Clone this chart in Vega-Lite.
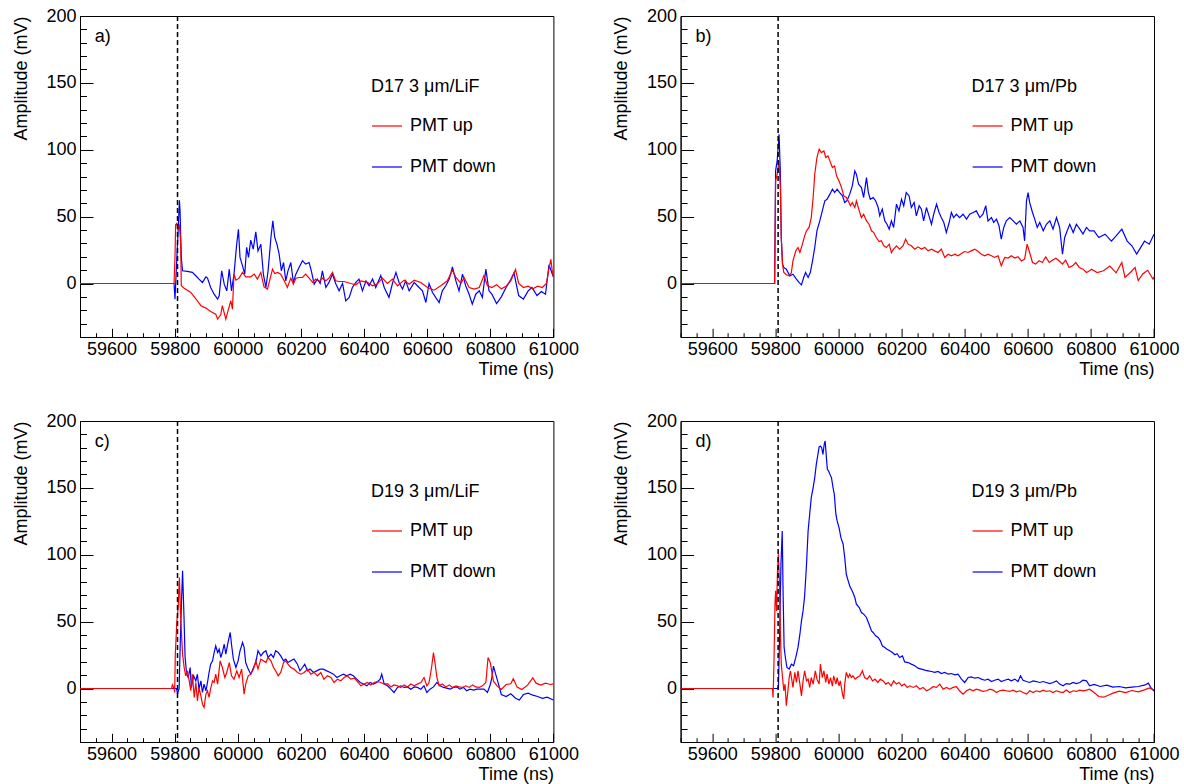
{
"$schema": "https://vega.github.io/schema/vega-lite/v6.json",
"background": "white",
"padding": {"left": 11, "top": 6, "right": 4, "bottom": 2},
"datasets": {
"a": [{"s":"PMT down","t":59500,"v":0},{"s":"PMT down","t":59798,"v":0},{"s":"PMT down","t":59801,"v":-11.7},{"s":"PMT down","t":59807,"v":20},{"s":"PMT down","t":59812,"v":45},{"s":"PMT down","t":59815,"v":62.3},{"s":"PMT down","t":59817,"v":54.3},{"s":"PMT down","t":59821,"v":19.4},{"s":"PMT down","t":59825,"v":9.5},{"s":"PMT down","t":59840,"v":9},{"s":"PMT down","t":59856,"v":8.3},{"s":"PMT down","t":59867,"v":5.8},{"s":"PMT down","t":59877,"v":3.3},{"s":"PMT down","t":59888,"v":0.8},{"s":"PMT down","t":59899,"v":5},{"s":"PMT down","t":59904,"v":4},{"s":"PMT down","t":59914,"v":-3},{"s":"PMT down","t":59925,"v":-8},{"s":"PMT down","t":59936,"v":-11.7},{"s":"PMT down","t":59941,"v":-9.2},{"s":"PMT down","t":59949,"v":9.5},{"s":"PMT down","t":59957,"v":-0.5},{"s":"PMT down","t":59965,"v":-5.5},{"s":"PMT down","t":59973,"v":10.7},{"s":"PMT down","t":59980,"v":-5.5},{"s":"PMT down","t":59988,"v":7},{"s":"PMT down","t":59996,"v":28.2},{"s":"PMT down","t":60002,"v":40.6},{"s":"PMT down","t":60007,"v":19.5},{"s":"PMT down","t":60015,"v":13.2},{"s":"PMT down","t":60022,"v":7},{"s":"PMT down","t":60028,"v":27},{"s":"PMT down","t":60034,"v":19.5},{"s":"PMT down","t":60041,"v":32.4},{"s":"PMT down","t":60049,"v":25.7},{"s":"PMT down","t":60057,"v":38.6},{"s":"PMT down","t":60064,"v":24.4},{"s":"PMT down","t":60073,"v":29.4},{"s":"PMT down","t":60081,"v":7},{"s":"PMT down","t":60089,"v":-3},{"s":"PMT down","t":60096,"v":9.5},{"s":"PMT down","t":60105,"v":34.4},{"s":"PMT down","t":60111,"v":46.8},{"s":"PMT down","t":60117,"v":34.4},{"s":"PMT down","t":60124,"v":29.4},{"s":"PMT down","t":60131,"v":21.9},{"s":"PMT down","t":60138,"v":9.5},{"s":"PMT down","t":60145,"v":15.7},{"s":"PMT down","t":60152,"v":2},{"s":"PMT down","t":60159,"v":9.5},{"s":"PMT down","t":60168,"v":15.7},{"s":"PMT down","t":60176,"v":0.8},{"s":"PMT down","t":60184,"v":7},{"s":"PMT down","t":60194,"v":12},{"s":"PMT down","t":60205,"v":17},{"s":"PMT down","t":60215,"v":14.5},{"s":"PMT down","t":60226,"v":15.7},{"s":"PMT down","t":60233,"v":9.5},{"s":"PMT down","t":60242,"v":-0.5},{"s":"PMT down","t":60252,"v":3.3},{"s":"PMT down","t":60261,"v":0},{"s":"PMT down","t":60268,"v":9.5},{"s":"PMT down","t":60279,"v":-3},{"s":"PMT down","t":60289,"v":0.8},{"s":"PMT down","t":60300,"v":7},{"s":"PMT down","t":60310,"v":0},{"s":"PMT down","t":60321,"v":-5.5},{"s":"PMT down","t":60332,"v":0},{"s":"PMT down","t":60342,"v":-13},{"s":"PMT down","t":60353,"v":-10.4},{"s":"PMT down","t":60363,"v":-3},{"s":"PMT down","t":60374,"v":0.8},{"s":"PMT down","t":60384,"v":3.3},{"s":"PMT down","t":60395,"v":-5.5},{"s":"PMT down","t":60406,"v":2},{"s":"PMT down","t":60416,"v":-1.7},{"s":"PMT down","t":60427,"v":3.3},{"s":"PMT down","t":60437,"v":-3},{"s":"PMT down","t":60453,"v":6},{"s":"PMT down","t":60464,"v":-3},{"s":"PMT down","t":60479,"v":-10.4},{"s":"PMT down","t":60490,"v":0},{"s":"PMT down","t":60501,"v":8.3},{"s":"PMT down","t":60511,"v":0.8},{"s":"PMT down","t":60522,"v":-4.2},{"s":"PMT down","t":60532,"v":2},{"s":"PMT down","t":60543,"v":-5.5},{"s":"PMT down","t":60559,"v":0.8},{"s":"PMT down","t":60569,"v":-1.7},{"s":"PMT down","t":60585,"v":-5.5},{"s":"PMT down","t":60596,"v":-14.2},{"s":"PMT down","t":60606,"v":0},{"s":"PMT down","t":60617,"v":-6.7},{"s":"PMT down","t":60627,"v":-10.4},{"s":"PMT down","t":60638,"v":-14.2},{"s":"PMT down","t":60648,"v":-5.5},{"s":"PMT down","t":60659,"v":-1.7},{"s":"PMT down","t":60670,"v":3.3},{"s":"PMT down","t":60680,"v":12.5},{"s":"PMT down","t":60691,"v":2},{"s":"PMT down","t":60701,"v":-5.5},{"s":"PMT down","t":60712,"v":7},{"s":"PMT down","t":60722,"v":-1.7},{"s":"PMT down","t":60733,"v":-8},{"s":"PMT down","t":60743,"v":-15.4},{"s":"PMT down","t":60754,"v":-8},{"s":"PMT down","t":60765,"v":-5.5},{"s":"PMT down","t":60775,"v":-10.4},{"s":"PMT down","t":60786,"v":10.7},{"s":"PMT down","t":60796,"v":-5.5},{"s":"PMT down","t":60805,"v":-8},{"s":"PMT down","t":60820,"v":-15},{"s":"PMT down","t":60835,"v":-10},{"s":"PMT down","t":60850,"v":-3},{"s":"PMT down","t":60865,"v":3},{"s":"PMT down","t":60875,"v":8},{"s":"PMT down","t":60890,"v":-9},{"s":"PMT down","t":60905,"v":-11.7},{"s":"PMT down","t":60920,"v":-5.5},{"s":"PMT down","t":60932,"v":-3},{"s":"PMT down","t":60948,"v":-9},{"s":"PMT down","t":60962,"v":-6},{"s":"PMT down","t":60975,"v":-8},{"s":"PMT down","t":60986,"v":14},{"s":"PMT down","t":60995,"v":8},{"s":"PMT down","t":61000,"v":5},
{"s":"PMT up","t":59500,"v":0},{"s":"PMT up","t":59798,"v":0},{"s":"PMT up","t":59801,"v":20},{"s":"PMT up","t":59803,"v":44},{"s":"PMT up","t":59807,"v":45},{"s":"PMT up","t":59811,"v":40},{"s":"PMT up","t":59815,"v":44},{"s":"PMT up","t":59819,"v":30},{"s":"PMT up","t":59821,"v":-1.7},{"s":"PMT up","t":59830,"v":-3.5},{"s":"PMT up","t":59851,"v":-6.7},{"s":"PMT up","t":59872,"v":-12.9},{"s":"PMT up","t":59883,"v":-16.6},{"s":"PMT up","t":59899,"v":-18.4},{"s":"PMT up","t":59914,"v":-20.9},{"s":"PMT up","t":59930,"v":-22.9},{"s":"PMT up","t":59936,"v":-26.6},{"s":"PMT up","t":59946,"v":-23.4},{"s":"PMT up","t":59951,"v":-16.6},{"s":"PMT up","t":59962,"v":-26.6},{"s":"PMT up","t":59969,"v":-20.4},{"s":"PMT up","t":59978,"v":-12.9},{"s":"PMT up","t":59983,"v":-19.2},{"s":"PMT up","t":59988,"v":7},{"s":"PMT up","t":59994,"v":2.5},{"s":"PMT up","t":60004,"v":4},{"s":"PMT up","t":60015,"v":8.3},{"s":"PMT up","t":60025,"v":5},{"s":"PMT up","t":60041,"v":5},{"s":"PMT up","t":60052,"v":7},{"s":"PMT up","t":60062,"v":3.3},{"s":"PMT up","t":60073,"v":8.3},{"s":"PMT up","t":60083,"v":-2.5},{"s":"PMT up","t":60094,"v":-4.2},{"s":"PMT up","t":60102,"v":3.3},{"s":"PMT up","t":60110,"v":10.7},{"s":"PMT up","t":60117,"v":7.5},{"s":"PMT up","t":60126,"v":8.3},{"s":"PMT up","t":60136,"v":7},{"s":"PMT up","t":60147,"v":2},{"s":"PMT up","t":60157,"v":-3},{"s":"PMT up","t":60168,"v":4},{"s":"PMT up","t":60176,"v":-0.5},{"s":"PMT up","t":60184,"v":4},{"s":"PMT up","t":60194,"v":4.5},{"s":"PMT up","t":60205,"v":4.5},{"s":"PMT up","t":60215,"v":7},{"s":"PMT up","t":60226,"v":4},{"s":"PMT up","t":60237,"v":0.8},{"s":"PMT up","t":60247,"v":3.3},{"s":"PMT up","t":60258,"v":1.5},{"s":"PMT up","t":60268,"v":4},{"s":"PMT up","t":60279,"v":2},{"s":"PMT up","t":60289,"v":4},{"s":"PMT up","t":60300,"v":8.3},{"s":"PMT up","t":60310,"v":2},{"s":"PMT up","t":60321,"v":1.5},{"s":"PMT up","t":60337,"v":1.5},{"s":"PMT up","t":60358,"v":0},{"s":"PMT up","t":60374,"v":-1},{"s":"PMT up","t":60390,"v":2},{"s":"PMT up","t":60411,"v":0.8},{"s":"PMT up","t":60427,"v":-1.7},{"s":"PMT up","t":60443,"v":0},{"s":"PMT up","t":60458,"v":4},{"s":"PMT up","t":60474,"v":0},{"s":"PMT up","t":60490,"v":3.3},{"s":"PMT up","t":60506,"v":-1.7},{"s":"PMT up","t":60527,"v":2.5},{"s":"PMT up","t":60543,"v":-0.5},{"s":"PMT up","t":60559,"v":2.5},{"s":"PMT up","t":60580,"v":0.8},{"s":"PMT up","t":60601,"v":-3},{"s":"PMT up","t":60622,"v":-5},{"s":"PMT up","t":60643,"v":-1.7},{"s":"PMT up","t":60664,"v":2},{"s":"PMT up","t":60680,"v":10},{"s":"PMT up","t":60691,"v":4.5},{"s":"PMT up","t":60707,"v":0},{"s":"PMT up","t":60717,"v":4.5},{"s":"PMT up","t":60733,"v":-3},{"s":"PMT up","t":60749,"v":-4.2},{"s":"PMT up","t":60765,"v":-3},{"s":"PMT up","t":60780,"v":6},{"s":"PMT up","t":60791,"v":-1.7},{"s":"PMT up","t":60805,"v":-3},{"s":"PMT up","t":60820,"v":-1},{"s":"PMT up","t":60835,"v":-4},{"s":"PMT up","t":60850,"v":-2},{"s":"PMT up","t":60865,"v":2},{"s":"PMT up","t":60880,"v":10.5},{"s":"PMT up","t":60890,"v":0},{"s":"PMT up","t":60905,"v":-3},{"s":"PMT up","t":60920,"v":-2},{"s":"PMT up","t":60935,"v":-4},{"s":"PMT up","t":60950,"v":-2},{"s":"PMT up","t":60965,"v":-3},{"s":"PMT up","t":60978,"v":0},{"s":"PMT up","t":60985,"v":10},{"s":"PMT up","t":60992,"v":18},{"s":"PMT up","t":60996,"v":10},{"s":"PMT up","t":61000,"v":5}],
"b": [{"s":"PMT down","t":59500,"v":0},{"s":"PMT down","t":59798,"v":0},{"s":"PMT down","t":59801,"v":84.2},{"s":"PMT down","t":59806,"v":91.7},{"s":"PMT down","t":59812,"v":111.6},{"s":"PMT down","t":59816,"v":84},{"s":"PMT down","t":59819,"v":34.4},{"s":"PMT down","t":59823,"v":14.5},{"s":"PMT down","t":59827,"v":12},{"s":"PMT down","t":59835,"v":10.7},{"s":"PMT down","t":59846,"v":5.7},{"s":"PMT down","t":59856,"v":6.9},{"s":"PMT down","t":59867,"v":3.3},{"s":"PMT down","t":59875,"v":0.8},{"s":"PMT down","t":59883,"v":-1},{"s":"PMT down","t":59890,"v":4.5},{"s":"PMT down","t":59896,"v":8.2},{"s":"PMT down","t":59904,"v":4.5},{"s":"PMT down","t":59911,"v":8.2},{"s":"PMT down","t":59918,"v":16.9},{"s":"PMT down","t":59925,"v":26.9},{"s":"PMT down","t":59932,"v":39.4},{"s":"PMT down","t":59941,"v":46.8},{"s":"PMT down","t":59949,"v":54.3},{"s":"PMT down","t":59957,"v":61.8},{"s":"PMT down","t":59964,"v":63},{"s":"PMT down","t":59973,"v":66.8},{"s":"PMT down","t":59981,"v":70.5},{"s":"PMT down","t":59988,"v":68},{"s":"PMT down","t":59996,"v":70.5},{"s":"PMT down","t":60004,"v":68},{"s":"PMT down","t":60013,"v":65.5},{"s":"PMT down","t":60020,"v":60.6},{"s":"PMT down","t":60027,"v":61.8},{"s":"PMT down","t":60036,"v":66.8},{"s":"PMT down","t":60044,"v":73},{"s":"PMT down","t":60052,"v":84.2},{"s":"PMT down","t":60057,"v":81.7},{"s":"PMT down","t":60064,"v":74.2},{"s":"PMT down","t":60073,"v":71.7},{"s":"PMT down","t":60080,"v":64.3},{"s":"PMT down","t":60089,"v":79.2},{"s":"PMT down","t":60095,"v":68},{"s":"PMT down","t":60101,"v":63},{"s":"PMT down","t":60110,"v":64.3},{"s":"PMT down","t":60118,"v":61.8},{"s":"PMT down","t":60126,"v":56.8},{"s":"PMT down","t":60131,"v":50.6},{"s":"PMT down","t":60139,"v":55.6},{"s":"PMT down","t":60147,"v":46.8},{"s":"PMT down","t":60154,"v":44.3},{"s":"PMT down","t":60161,"v":40.6},{"s":"PMT down","t":60168,"v":46.8},{"s":"PMT down","t":60175,"v":41.9},{"s":"PMT down","t":60184,"v":59.3},{"s":"PMT down","t":60192,"v":54.3},{"s":"PMT down","t":60200,"v":63},{"s":"PMT down","t":60207,"v":58.1},{"s":"PMT down","t":60215,"v":68},{"s":"PMT down","t":60224,"v":65.5},{"s":"PMT down","t":60231,"v":56.8},{"s":"PMT down","t":60240,"v":60.6},{"s":"PMT down","t":60247,"v":50.6},{"s":"PMT down","t":60256,"v":58.1},{"s":"PMT down","t":60263,"v":55.6},{"s":"PMT down","t":60270,"v":46.8},{"s":"PMT down","t":60279,"v":56.8},{"s":"PMT down","t":60287,"v":50.6},{"s":"PMT down","t":60295,"v":44.3},{"s":"PMT down","t":60302,"v":51.8},{"s":"PMT down","t":60311,"v":59.3},{"s":"PMT down","t":60319,"v":53.1},{"s":"PMT down","t":60326,"v":49.3},{"s":"PMT down","t":60334,"v":45.6},{"s":"PMT down","t":60342,"v":38.1},{"s":"PMT down","t":60351,"v":45.6},{"s":"PMT down","t":60358,"v":53.1},{"s":"PMT down","t":60365,"v":49.3},{"s":"PMT down","t":60374,"v":51.8},{"s":"PMT down","t":60384,"v":49.3},{"s":"PMT down","t":60395,"v":51.8},{"s":"PMT down","t":60406,"v":48.1},{"s":"PMT down","t":60416,"v":51.8},{"s":"PMT down","t":60427,"v":53.1},{"s":"PMT down","t":60437,"v":54.3},{"s":"PMT down","t":60448,"v":49.3},{"s":"PMT down","t":60458,"v":51.8},{"s":"PMT down","t":60467,"v":58.1},{"s":"PMT down","t":60474,"v":46.8},{"s":"PMT down","t":60485,"v":49.3},{"s":"PMT down","t":60492,"v":45.6},{"s":"PMT down","t":60501,"v":48.1},{"s":"PMT down","t":60509,"v":43.1},{"s":"PMT down","t":60516,"v":33.1},{"s":"PMT down","t":60524,"v":41.9},{"s":"PMT down","t":60532,"v":46.8},{"s":"PMT down","t":60543,"v":49.3},{"s":"PMT down","t":60554,"v":46.8},{"s":"PMT down","t":60564,"v":44.3},{"s":"PMT down","t":60575,"v":46.8},{"s":"PMT down","t":60585,"v":41.9},{"s":"PMT down","t":60590,"v":31.9},{"s":"PMT down","t":60596,"v":61.8},{"s":"PMT down","t":60601,"v":68},{"s":"PMT down","t":60606,"v":60.6},{"s":"PMT down","t":60615,"v":53.1},{"s":"PMT down","t":60622,"v":48.1},{"s":"PMT down","t":60630,"v":41.9},{"s":"PMT down","t":60638,"v":45.6},{"s":"PMT down","t":60649,"v":39.4},{"s":"PMT down","t":60659,"v":44.3},{"s":"PMT down","t":60670,"v":46.8},{"s":"PMT down","t":60680,"v":40.6},{"s":"PMT down","t":60691,"v":49.3},{"s":"PMT down","t":60701,"v":41.9},{"s":"PMT down","t":60710,"v":21.9},{"s":"PMT down","t":60717,"v":34.4},{"s":"PMT down","t":60725,"v":39.4},{"s":"PMT down","t":60733,"v":44.3},{"s":"PMT down","t":60744,"v":38.1},{"s":"PMT down","t":60754,"v":44.3},{"s":"PMT down","t":60765,"v":40.6},{"s":"PMT down","t":60775,"v":36.9},{"s":"PMT down","t":60786,"v":41.9},{"s":"PMT down","t":60796,"v":39.4},{"s":"PMT down","t":60810,"v":39.4},{"s":"PMT down","t":60825,"v":34.4},{"s":"PMT down","t":60845,"v":36.9},{"s":"PMT down","t":60865,"v":31.7},{"s":"PMT down","t":60880,"v":35.6},{"s":"PMT down","t":60898,"v":40.6},{"s":"PMT down","t":60915,"v":31.7},{"s":"PMT down","t":60930,"v":28.2},{"s":"PMT down","t":60945,"v":22},{"s":"PMT down","t":60958,"v":27},{"s":"PMT down","t":60970,"v":31.7},{"s":"PMT down","t":60985,"v":29.4},{"s":"PMT down","t":61000,"v":36.9},
{"s":"PMT up","t":59500,"v":0},{"s":"PMT up","t":59798,"v":0},{"s":"PMT up","t":59801,"v":76.7},{"s":"PMT up","t":59806,"v":81.7},{"s":"PMT up","t":59812,"v":92.2},{"s":"PMT up","t":59816,"v":71.7},{"s":"PMT up","t":59819,"v":34.4},{"s":"PMT up","t":59823,"v":14.5},{"s":"PMT up","t":59827,"v":8.2},{"s":"PMT up","t":59835,"v":6.5},{"s":"PMT up","t":59844,"v":5.7},{"s":"PMT up","t":59851,"v":8.2},{"s":"PMT up","t":59856,"v":16.9},{"s":"PMT up","t":59865,"v":24.4},{"s":"PMT up","t":59872,"v":26.9},{"s":"PMT up","t":59878,"v":23.2},{"s":"PMT up","t":59886,"v":29.4},{"s":"PMT up","t":59893,"v":35.6},{"s":"PMT up","t":59899,"v":39.4},{"s":"PMT up","t":59907,"v":41.9},{"s":"PMT up","t":59914,"v":49.3},{"s":"PMT up","t":59920,"v":64.3},{"s":"PMT up","t":59925,"v":81.7},{"s":"PMT up","t":59932,"v":94.2},{"s":"PMT up","t":59939,"v":100.4},{"s":"PMT up","t":59946,"v":97.9},{"s":"PMT up","t":59954,"v":99.1},{"s":"PMT up","t":59960,"v":94.2},{"s":"PMT up","t":59967,"v":95.4},{"s":"PMT up","t":59975,"v":90.4},{"s":"PMT up","t":59981,"v":86.7},{"s":"PMT up","t":59988,"v":87.9},{"s":"PMT up","t":59994,"v":80.5},{"s":"PMT up","t":60002,"v":76.7},{"s":"PMT up","t":60010,"v":71.7},{"s":"PMT up","t":60017,"v":65.5},{"s":"PMT up","t":60025,"v":64.3},{"s":"PMT up","t":60031,"v":61.8},{"s":"PMT up","t":60038,"v":58.1},{"s":"PMT up","t":60044,"v":60.6},{"s":"PMT up","t":60052,"v":56.8},{"s":"PMT up","t":60057,"v":61.8},{"s":"PMT up","t":60066,"v":54.3},{"s":"PMT up","t":60073,"v":49.3},{"s":"PMT up","t":60080,"v":51.8},{"s":"PMT up","t":60089,"v":46.8},{"s":"PMT up","t":60097,"v":44.3},{"s":"PMT up","t":60105,"v":39.4},{"s":"PMT up","t":60112,"v":38.1},{"s":"PMT up","t":60120,"v":34.4},{"s":"PMT up","t":60129,"v":31.4},{"s":"PMT up","t":60136,"v":31.9},{"s":"PMT up","t":60144,"v":28.2},{"s":"PMT up","t":60152,"v":26.9},{"s":"PMT up","t":60161,"v":29.4},{"s":"PMT up","t":60168,"v":23.2},{"s":"PMT up","t":60175,"v":25.7},{"s":"PMT up","t":60184,"v":28.2},{"s":"PMT up","t":60194,"v":25.7},{"s":"PMT up","t":60205,"v":28.2},{"s":"PMT up","t":60213,"v":33.1},{"s":"PMT up","t":60221,"v":29.4},{"s":"PMT up","t":60231,"v":28.2},{"s":"PMT up","t":60242,"v":25.7},{"s":"PMT up","t":60252,"v":27.4},{"s":"PMT up","t":60263,"v":25.7},{"s":"PMT up","t":60274,"v":26.9},{"s":"PMT up","t":60284,"v":24.4},{"s":"PMT up","t":60295,"v":25.7},{"s":"PMT up","t":60305,"v":24.4},{"s":"PMT up","t":60316,"v":23.2},{"s":"PMT up","t":60326,"v":25.7},{"s":"PMT up","t":60337,"v":19.5},{"s":"PMT up","t":60348,"v":21.9},{"s":"PMT up","t":60358,"v":20.7},{"s":"PMT up","t":60369,"v":21.9},{"s":"PMT up","t":60379,"v":20.7},{"s":"PMT up","t":60390,"v":22.4},{"s":"PMT up","t":60400,"v":23.9},{"s":"PMT up","t":60411,"v":23.2},{"s":"PMT up","t":60421,"v":24.4},{"s":"PMT up","t":60432,"v":25.7},{"s":"PMT up","t":60443,"v":23.9},{"s":"PMT up","t":60453,"v":21.9},{"s":"PMT up","t":60464,"v":20.7},{"s":"PMT up","t":60474,"v":21.9},{"s":"PMT up","t":60485,"v":20.7},{"s":"PMT up","t":60495,"v":19.5},{"s":"PMT up","t":60506,"v":20.7},{"s":"PMT up","t":60516,"v":13.2},{"s":"PMT up","t":60527,"v":19.5},{"s":"PMT up","t":60538,"v":19},{"s":"PMT up","t":60548,"v":20.7},{"s":"PMT up","t":60559,"v":19},{"s":"PMT up","t":60569,"v":20},{"s":"PMT up","t":60580,"v":16.9},{"s":"PMT up","t":60590,"v":18.2},{"s":"PMT up","t":60598,"v":29.4},{"s":"PMT up","t":60606,"v":23.2},{"s":"PMT up","t":60615,"v":15.7},{"s":"PMT up","t":60625,"v":14.5},{"s":"PMT up","t":60636,"v":17},{"s":"PMT up","t":60646,"v":15.7},{"s":"PMT up","t":60657,"v":19.9},{"s":"PMT up","t":60668,"v":15.7},{"s":"PMT up","t":60678,"v":17.4},{"s":"PMT up","t":60689,"v":18.9},{"s":"PMT up","t":60699,"v":17},{"s":"PMT up","t":60710,"v":14.5},{"s":"PMT up","t":60720,"v":17.4},{"s":"PMT up","t":60731,"v":12},{"s":"PMT up","t":60742,"v":13.2},{"s":"PMT up","t":60752,"v":15.7},{"s":"PMT up","t":60763,"v":12},{"s":"PMT up","t":60775,"v":10.7},{"s":"PMT up","t":60786,"v":8.2},{"s":"PMT up","t":60796,"v":9.5},{"s":"PMT up","t":60802,"v":10.7},{"s":"PMT up","t":60820,"v":8.2},{"s":"PMT up","t":60840,"v":9.5},{"s":"PMT up","t":60860,"v":13},{"s":"PMT up","t":60880,"v":8},{"s":"PMT up","t":60898,"v":15.7},{"s":"PMT up","t":60908,"v":4.6},{"s":"PMT up","t":60925,"v":8.2},{"s":"PMT up","t":60940,"v":12},{"s":"PMT up","t":60950,"v":2.2},{"s":"PMT up","t":60965,"v":7.3},{"s":"PMT up","t":60980,"v":9.9},{"s":"PMT up","t":60997,"v":3.2},{"s":"PMT up","t":61000,"v":5}],
"c": [{"s":"PMT down","t":59500,"v":0},{"s":"PMT down","t":59806,"v":0},{"s":"PMT down","t":59809,"v":-4.2},{"s":"PMT down","t":59814,"v":0},{"s":"PMT down","t":59819,"v":45.6},{"s":"PMT down","t":59825,"v":88},{"s":"PMT down","t":59829,"v":58},{"s":"PMT down","t":59833,"v":23.2},{"s":"PMT down","t":59838,"v":10.7},{"s":"PMT down","t":59843,"v":8.2},{"s":"PMT down","t":59849,"v":15.7},{"s":"PMT down","t":59853,"v":0.8},{"s":"PMT down","t":59860,"v":9.5},{"s":"PMT down","t":59867,"v":5.7},{"s":"PMT down","t":59872,"v":10.7},{"s":"PMT down","t":59877,"v":-0.5},{"s":"PMT down","t":59883,"v":5.7},{"s":"PMT down","t":59888,"v":-3},{"s":"PMT down","t":59893,"v":3.3},{"s":"PMT down","t":59899,"v":-1.7},{"s":"PMT down","t":59904,"v":4.5},{"s":"PMT down","t":59909,"v":12},{"s":"PMT down","t":59914,"v":18.2},{"s":"PMT down","t":59920,"v":20.7},{"s":"PMT down","t":59925,"v":26.9},{"s":"PMT down","t":59930,"v":31.9},{"s":"PMT down","t":59936,"v":26.9},{"s":"PMT down","t":59941,"v":29.4},{"s":"PMT down","t":59946,"v":23.2},{"s":"PMT down","t":59951,"v":26.9},{"s":"PMT down","t":59957,"v":33.1},{"s":"PMT down","t":59962,"v":25.7},{"s":"PMT down","t":59969,"v":34.4},{"s":"PMT down","t":59976,"v":41.9},{"s":"PMT down","t":59980,"v":33.1},{"s":"PMT down","t":59986,"v":21.9},{"s":"PMT down","t":59994,"v":15.7},{"s":"PMT down","t":60001,"v":20.7},{"s":"PMT down","t":60007,"v":28.2},{"s":"PMT down","t":60015,"v":34.4},{"s":"PMT down","t":60020,"v":30.7},{"s":"PMT down","t":60025,"v":19.4},{"s":"PMT down","t":60033,"v":14.5},{"s":"PMT down","t":60041,"v":10.7},{"s":"PMT down","t":60050,"v":15.7},{"s":"PMT down","t":60057,"v":19.4},{"s":"PMT down","t":60064,"v":28.2},{"s":"PMT down","t":60073,"v":24.4},{"s":"PMT down","t":60081,"v":26.9},{"s":"PMT down","t":60089,"v":28.2},{"s":"PMT down","t":60096,"v":23.2},{"s":"PMT down","t":60105,"v":25.7},{"s":"PMT down","t":60113,"v":23.2},{"s":"PMT down","t":60120,"v":28.2},{"s":"PMT down","t":60128,"v":26.9},{"s":"PMT down","t":60136,"v":24.4},{"s":"PMT down","t":60145,"v":20.7},{"s":"PMT down","t":60152,"v":22},{"s":"PMT down","t":60159,"v":19.4},{"s":"PMT down","t":60168,"v":20.7},{"s":"PMT down","t":60178,"v":22},{"s":"PMT down","t":60189,"v":18.2},{"s":"PMT down","t":60197,"v":13.2},{"s":"PMT down","t":60205,"v":15.7},{"s":"PMT down","t":60212,"v":18.2},{"s":"PMT down","t":60221,"v":13.2},{"s":"PMT down","t":60229,"v":14.5},{"s":"PMT down","t":60240,"v":12},{"s":"PMT down","t":60250,"v":13.2},{"s":"PMT down","t":60261,"v":14.5},{"s":"PMT down","t":60271,"v":14.5},{"s":"PMT down","t":60282,"v":13.2},{"s":"PMT down","t":60293,"v":12},{"s":"PMT down","t":60303,"v":10.7},{"s":"PMT down","t":60314,"v":8.2},{"s":"PMT down","t":60324,"v":9.5},{"s":"PMT down","t":60335,"v":10.7},{"s":"PMT down","t":60345,"v":9.5},{"s":"PMT down","t":60356,"v":10.7},{"s":"PMT down","t":60366,"v":9.5},{"s":"PMT down","t":60377,"v":7},{"s":"PMT down","t":60388,"v":4.5},{"s":"PMT down","t":60398,"v":3.3},{"s":"PMT down","t":60409,"v":2},{"s":"PMT down","t":60419,"v":4.5},{"s":"PMT down","t":60430,"v":3.3},{"s":"PMT down","t":60440,"v":4.5},{"s":"PMT down","t":60451,"v":7},{"s":"PMT down","t":60456,"v":10.7},{"s":"PMT down","t":60464,"v":3.3},{"s":"PMT down","t":60474,"v":2},{"s":"PMT down","t":60485,"v":-0.5},{"s":"PMT down","t":60495,"v":-3},{"s":"PMT down","t":60506,"v":0.8},{"s":"PMT down","t":60516,"v":2},{"s":"PMT down","t":60527,"v":0.8},{"s":"PMT down","t":60538,"v":1.2},{"s":"PMT down","t":60548,"v":-0.5},{"s":"PMT down","t":60559,"v":1.2},{"s":"PMT down","t":60569,"v":0.8},{"s":"PMT down","t":60580,"v":-0.5},{"s":"PMT down","t":60590,"v":2},{"s":"PMT down","t":60599,"v":-3},{"s":"PMT down","t":60609,"v":-0.5},{"s":"PMT down","t":60620,"v":1.2},{"s":"PMT down","t":60631,"v":4.5},{"s":"PMT down","t":60641,"v":2},{"s":"PMT down","t":60652,"v":0.8},{"s":"PMT down","t":60662,"v":0.3},{"s":"PMT down","t":60673,"v":-0.5},{"s":"PMT down","t":60683,"v":0.8},{"s":"PMT down","t":60694,"v":1.2},{"s":"PMT down","t":60704,"v":-0.5},{"s":"PMT down","t":60715,"v":0.8},{"s":"PMT down","t":60725,"v":-1.7},{"s":"PMT down","t":60736,"v":-0.5},{"s":"PMT down","t":60747,"v":-1.2},{"s":"PMT down","t":60757,"v":-0.5},{"s":"PMT down","t":60768,"v":-0.5},{"s":"PMT down","t":60780,"v":-0.5},{"s":"PMT down","t":60791,"v":-3},{"s":"PMT down","t":60800,"v":3},{"s":"PMT down","t":60805,"v":8},{"s":"PMT down","t":60810,"v":16.7},{"s":"PMT down","t":60818,"v":10},{"s":"PMT down","t":60825,"v":4.2},{"s":"PMT down","t":60835,"v":-4.5},{"s":"PMT down","t":60850,"v":-6},{"s":"PMT down","t":60865,"v":-4},{"s":"PMT down","t":60880,"v":-7.3},{"s":"PMT down","t":60892,"v":-8.6},{"s":"PMT down","t":60905,"v":-4.5},{"s":"PMT down","t":60920,"v":-3.5},{"s":"PMT down","t":60935,"v":-5},{"s":"PMT down","t":60950,"v":-6},{"s":"PMT down","t":60965,"v":-7.3},{"s":"PMT down","t":60980,"v":-6.5},{"s":"PMT down","t":61000,"v":-8.6},
{"s":"PMT up","t":59500,"v":0},{"s":"PMT up","t":59790,"v":0},{"s":"PMT up","t":59793,"v":2.7},{"s":"PMT up","t":59798,"v":0},{"s":"PMT up","t":59800,"v":-3},{"s":"PMT up","t":59802,"v":25.7},{"s":"PMT up","t":59805,"v":40.6},{"s":"PMT up","t":59807,"v":50.6},{"s":"PMT up","t":59811,"v":60.5},{"s":"PMT up","t":59815,"v":83},{"s":"PMT up","t":59819,"v":53},{"s":"PMT up","t":59825,"v":25.7},{"s":"PMT up","t":59830,"v":15.7},{"s":"PMT up","t":59835,"v":9.5},{"s":"PMT up","t":59840,"v":13.2},{"s":"PMT up","t":59846,"v":5.7},{"s":"PMT up","t":59851,"v":-1.7},{"s":"PMT up","t":59856,"v":10.7},{"s":"PMT up","t":59862,"v":-6.7},{"s":"PMT up","t":59867,"v":4.5},{"s":"PMT up","t":59872,"v":-9.2},{"s":"PMT up","t":59877,"v":0.7},{"s":"PMT up","t":59883,"v":-5.5},{"s":"PMT up","t":59888,"v":-11.7},{"s":"PMT up","t":59893,"v":-14.2},{"s":"PMT up","t":59899,"v":-4.2},{"s":"PMT up","t":59904,"v":-1.7},{"s":"PMT up","t":59909,"v":-6.7},{"s":"PMT up","t":59914,"v":0},{"s":"PMT up","t":59920,"v":5.7},{"s":"PMT up","t":59925,"v":4.5},{"s":"PMT up","t":59930,"v":10.7},{"s":"PMT up","t":59936,"v":3.3},{"s":"PMT up","t":59944,"v":20.7},{"s":"PMT up","t":59951,"v":15.7},{"s":"PMT up","t":59959,"v":8.2},{"s":"PMT up","t":59965,"v":12},{"s":"PMT up","t":59973,"v":19.4},{"s":"PMT up","t":59980,"v":9.5},{"s":"PMT up","t":59988,"v":7},{"s":"PMT up","t":59997,"v":13.2},{"s":"PMT up","t":60004,"v":8.2},{"s":"PMT up","t":60012,"v":14.5},{"s":"PMT up","t":60020,"v":-4.2},{"s":"PMT up","t":60025,"v":3.3},{"s":"PMT up","t":60033,"v":9.5},{"s":"PMT up","t":60041,"v":10.7},{"s":"PMT up","t":60050,"v":14.5},{"s":"PMT up","t":60057,"v":20.7},{"s":"PMT up","t":60064,"v":14.5},{"s":"PMT up","t":60073,"v":21.9},{"s":"PMT up","t":60081,"v":20.7},{"s":"PMT up","t":60089,"v":19.4},{"s":"PMT up","t":60096,"v":23.2},{"s":"PMT up","t":60105,"v":20.7},{"s":"PMT up","t":60113,"v":15.7},{"s":"PMT up","t":60120,"v":13.2},{"s":"PMT up","t":60128,"v":9.5},{"s":"PMT up","t":60136,"v":12},{"s":"PMT up","t":60145,"v":19.4},{"s":"PMT up","t":60152,"v":20.7},{"s":"PMT up","t":60159,"v":18.2},{"s":"PMT up","t":60168,"v":15.7},{"s":"PMT up","t":60178,"v":14.5},{"s":"PMT up","t":60189,"v":12},{"s":"PMT up","t":60200,"v":10.7},{"s":"PMT up","t":60210,"v":12},{"s":"PMT up","t":60221,"v":14.5},{"s":"PMT up","t":60231,"v":10.7},{"s":"PMT up","t":60242,"v":12},{"s":"PMT up","t":60252,"v":9.5},{"s":"PMT up","t":60263,"v":12},{"s":"PMT up","t":60273,"v":7},{"s":"PMT up","t":60284,"v":9.5},{"s":"PMT up","t":60295,"v":8.2},{"s":"PMT up","t":60305,"v":4.5},{"s":"PMT up","t":60316,"v":7},{"s":"PMT up","t":60326,"v":5.7},{"s":"PMT up","t":60337,"v":8.2},{"s":"PMT up","t":60347,"v":9.5},{"s":"PMT up","t":60358,"v":7},{"s":"PMT up","t":60369,"v":7.7},{"s":"PMT up","t":60379,"v":5.2},{"s":"PMT up","t":60390,"v":2},{"s":"PMT up","t":60400,"v":3.3},{"s":"PMT up","t":60411,"v":4.5},{"s":"PMT up","t":60421,"v":2.7},{"s":"PMT up","t":60432,"v":4.5},{"s":"PMT up","t":60443,"v":5.2},{"s":"PMT up","t":60453,"v":4.5},{"s":"PMT up","t":60464,"v":3.3},{"s":"PMT up","t":60474,"v":3.7},{"s":"PMT up","t":60485,"v":1.2},{"s":"PMT up","t":60495,"v":2.7},{"s":"PMT up","t":60506,"v":2},{"s":"PMT up","t":60516,"v":0.8},{"s":"PMT up","t":60527,"v":2.7},{"s":"PMT up","t":60538,"v":1.2},{"s":"PMT up","t":60548,"v":3.3},{"s":"PMT up","t":60559,"v":2},{"s":"PMT up","t":60569,"v":3.3},{"s":"PMT up","t":60580,"v":4.5},{"s":"PMT up","t":60590,"v":8.2},{"s":"PMT up","t":60599,"v":2},{"s":"PMT up","t":60606,"v":4.5},{"s":"PMT up","t":60614,"v":15.7},{"s":"PMT up","t":60620,"v":26.9},{"s":"PMT up","t":60624,"v":20.7},{"s":"PMT up","t":60631,"v":8.2},{"s":"PMT up","t":60638,"v":2},{"s":"PMT up","t":60648,"v":3.3},{"s":"PMT up","t":60659,"v":1.2},{"s":"PMT up","t":60670,"v":2.7},{"s":"PMT up","t":60680,"v":0.8},{"s":"PMT up","t":60691,"v":2},{"s":"PMT up","t":60701,"v":1.2},{"s":"PMT up","t":60712,"v":0.8},{"s":"PMT up","t":60722,"v":2},{"s":"PMT up","t":60733,"v":0.8},{"s":"PMT up","t":60744,"v":2.7},{"s":"PMT up","t":60754,"v":1.2},{"s":"PMT up","t":60765,"v":0.8},{"s":"PMT up","t":60775,"v":2},{"s":"PMT up","t":60786,"v":4.5},{"s":"PMT up","t":60793,"v":23.2},{"s":"PMT up","t":60800,"v":19.4},{"s":"PMT up","t":60810,"v":5.5},{"s":"PMT up","t":60822,"v":1.8},{"s":"PMT up","t":60835,"v":-0.7},{"s":"PMT up","t":60850,"v":3},{"s":"PMT up","t":60865,"v":3.5},{"s":"PMT up","t":60873,"v":7.3},{"s":"PMT up","t":60885,"v":1},{"s":"PMT up","t":60900,"v":-0.7},{"s":"PMT up","t":60918,"v":2.5},{"s":"PMT up","t":60935,"v":8},{"s":"PMT up","t":60945,"v":4},{"s":"PMT up","t":60960,"v":2.5},{"s":"PMT up","t":60975,"v":4},{"s":"PMT up","t":60990,"v":3},{"s":"PMT up","t":61000,"v":3.5}],
"d": [{"s":"PMT down","t":59500,"v":0},{"s":"PMT down","t":59806,"v":0},{"s":"PMT down","t":59810,"v":0.8},{"s":"PMT down","t":59814,"v":43},{"s":"PMT down","t":59818,"v":92.9},{"s":"PMT down","t":59822,"v":117.8},{"s":"PMT down","t":59825,"v":68},{"s":"PMT down","t":59828,"v":30.7},{"s":"PMT down","t":59832,"v":23.2},{"s":"PMT down","t":59837,"v":15.7},{"s":"PMT down","t":59844,"v":14.5},{"s":"PMT down","t":59851,"v":18.2},{"s":"PMT down","t":59858,"v":17},{"s":"PMT down","t":59865,"v":23.2},{"s":"PMT down","t":59872,"v":30.7},{"s":"PMT down","t":59878,"v":40.6},{"s":"PMT down","t":59883,"v":50.6},{"s":"PMT down","t":59888,"v":58},{"s":"PMT down","t":59893,"v":69.2},{"s":"PMT down","t":59899,"v":92.9},{"s":"PMT down","t":59904,"v":117.8},{"s":"PMT down","t":59909,"v":130.3},{"s":"PMT down","t":59914,"v":142.7},{"s":"PMT down","t":59920,"v":150.2},{"s":"PMT down","t":59925,"v":157.7},{"s":"PMT down","t":59930,"v":167.6},{"s":"PMT down","t":59936,"v":176.3},{"s":"PMT down","t":59939,"v":180.6},{"s":"PMT down","t":59943,"v":181.3},{"s":"PMT down","t":59947,"v":180},{"s":"PMT down","t":59951,"v":175.1},{"s":"PMT down","t":59955,"v":182.6},{"s":"PMT down","t":59958,"v":185.1},{"s":"PMT down","t":59962,"v":172.6},{"s":"PMT down","t":59965,"v":163.9},{"s":"PMT down","t":59969,"v":162.6},{"s":"PMT down","t":59973,"v":160.2},{"s":"PMT down","t":59978,"v":157.7},{"s":"PMT down","t":59983,"v":150.2},{"s":"PMT down","t":59987,"v":145.2},{"s":"PMT down","t":59992,"v":130.3},{"s":"PMT down","t":59996,"v":125.3},{"s":"PMT down","t":60002,"v":120.3},{"s":"PMT down","t":60008,"v":112.8},{"s":"PMT down","t":60015,"v":107.9},{"s":"PMT down","t":60020,"v":97.9},{"s":"PMT down","t":60025,"v":85.4},{"s":"PMT down","t":60031,"v":80.5},{"s":"PMT down","t":60036,"v":76.7},{"s":"PMT down","t":60041,"v":74.2},{"s":"PMT down","t":60046,"v":71.7},{"s":"PMT down","t":60052,"v":68},{"s":"PMT down","t":60057,"v":63},{"s":"PMT down","t":60066,"v":60.5},{"s":"PMT down","t":60073,"v":56.8},{"s":"PMT down","t":60080,"v":55.6},{"s":"PMT down","t":60089,"v":53.1},{"s":"PMT down","t":60097,"v":48.1},{"s":"PMT down","t":60105,"v":43},{"s":"PMT down","t":60110,"v":41.9},{"s":"PMT down","t":60118,"v":39.4},{"s":"PMT down","t":60126,"v":38.1},{"s":"PMT down","t":60133,"v":35.6},{"s":"PMT down","t":60139,"v":31.9},{"s":"PMT down","t":60147,"v":30.7},{"s":"PMT down","t":60154,"v":29.4},{"s":"PMT down","t":60163,"v":28.2},{"s":"PMT down","t":60171,"v":26.9},{"s":"PMT down","t":60179,"v":25.2},{"s":"PMT down","t":60186,"v":26},{"s":"PMT down","t":60194,"v":23.2},{"s":"PMT down","t":60203,"v":24.4},{"s":"PMT down","t":60210,"v":19.9},{"s":"PMT down","t":60221,"v":19.4},{"s":"PMT down","t":60231,"v":18.2},{"s":"PMT down","t":60242,"v":17},{"s":"PMT down","t":60252,"v":15.2},{"s":"PMT down","t":60263,"v":14.5},{"s":"PMT down","t":60274,"v":13.7},{"s":"PMT down","t":60284,"v":13.2},{"s":"PMT down","t":60295,"v":12.7},{"s":"PMT down","t":60305,"v":12},{"s":"PMT down","t":60316,"v":12.7},{"s":"PMT down","t":60326,"v":11.2},{"s":"PMT down","t":60337,"v":12},{"s":"PMT down","t":60348,"v":10.7},{"s":"PMT down","t":60358,"v":11.2},{"s":"PMT down","t":60369,"v":10.2},{"s":"PMT down","t":60379,"v":10.7},{"s":"PMT down","t":60390,"v":7},{"s":"PMT down","t":60400,"v":4.5},{"s":"PMT down","t":60411,"v":8.2},{"s":"PMT down","t":60421,"v":8.7},{"s":"PMT down","t":60432,"v":7.7},{"s":"PMT down","t":60443,"v":8.2},{"s":"PMT down","t":60453,"v":7},{"s":"PMT down","t":60464,"v":6.2},{"s":"PMT down","t":60474,"v":7},{"s":"PMT down","t":60485,"v":5.2},{"s":"PMT down","t":60495,"v":6.2},{"s":"PMT down","t":60506,"v":7},{"s":"PMT down","t":60516,"v":5.2},{"s":"PMT down","t":60527,"v":6.2},{"s":"PMT down","t":60538,"v":7},{"s":"PMT down","t":60548,"v":5.7},{"s":"PMT down","t":60559,"v":7},{"s":"PMT down","t":60569,"v":5.2},{"s":"PMT down","t":60577,"v":9.5},{"s":"PMT down","t":60585,"v":6.2},{"s":"PMT down","t":60596,"v":5.2},{"s":"PMT down","t":60606,"v":4.5},{"s":"PMT down","t":60617,"v":5.7},{"s":"PMT down","t":60627,"v":5.2},{"s":"PMT down","t":60638,"v":4.5},{"s":"PMT down","t":60649,"v":5.2},{"s":"PMT down","t":60659,"v":4.5},{"s":"PMT down","t":60670,"v":3.7},{"s":"PMT down","t":60680,"v":4.5},{"s":"PMT down","t":60691,"v":5.7},{"s":"PMT down","t":60701,"v":3.3},{"s":"PMT down","t":60712,"v":2},{"s":"PMT down","t":60722,"v":3.7},{"s":"PMT down","t":60733,"v":3.3},{"s":"PMT down","t":60744,"v":4.5},{"s":"PMT down","t":60754,"v":3.7},{"s":"PMT down","t":60765,"v":4.5},{"s":"PMT down","t":60775,"v":6.2},{"s":"PMT down","t":60786,"v":5.7},{"s":"PMT down","t":60796,"v":2},{"s":"PMT down","t":60810,"v":3},{"s":"PMT down","t":60830,"v":1.5},{"s":"PMT down","t":60850,"v":2.5},{"s":"PMT down","t":60870,"v":1},{"s":"PMT down","t":60890,"v":1.5},{"s":"PMT down","t":60910,"v":0.5},{"s":"PMT down","t":60930,"v":1},{"s":"PMT down","t":60950,"v":1.5},{"s":"PMT down","t":60970,"v":2.5},{"s":"PMT down","t":60982,"v":4},{"s":"PMT down","t":60992,"v":0},{"s":"PMT down","t":61000,"v":-2},
{"s":"PMT up","t":59500,"v":0},{"s":"PMT up","t":59791,"v":0},{"s":"PMT up","t":59793,"v":-6.7},{"s":"PMT up","t":59796,"v":20.7},{"s":"PMT up","t":59799,"v":63},{"s":"PMT up","t":59801,"v":73},{"s":"PMT up","t":59804,"v":58},{"s":"PMT up","t":59807,"v":87.9},{"s":"PMT up","t":59810,"v":100.4},{"s":"PMT up","t":59813,"v":80.5},{"s":"PMT up","t":59816,"v":43},{"s":"PMT up","t":59819,"v":18.2},{"s":"PMT up","t":59823,"v":8.2},{"s":"PMT up","t":59827,"v":-1.7},{"s":"PMT up","t":59831,"v":3.2},{"s":"PMT up","t":59835,"v":-12.9},{"s":"PMT up","t":59839,"v":-4.2},{"s":"PMT up","t":59844,"v":8.2},{"s":"PMT up","t":59848,"v":13.2},{"s":"PMT up","t":59852,"v":7},{"s":"PMT up","t":59856,"v":0.8},{"s":"PMT up","t":59862,"v":12},{"s":"PMT up","t":59867,"v":4.5},{"s":"PMT up","t":59872,"v":13.2},{"s":"PMT up","t":59878,"v":3.3},{"s":"PMT up","t":59883,"v":-5.5},{"s":"PMT up","t":59888,"v":5.7},{"s":"PMT up","t":59893,"v":13.2},{"s":"PMT up","t":59899,"v":5.7},{"s":"PMT up","t":59904,"v":7},{"s":"PMT up","t":59909,"v":0.8},{"s":"PMT up","t":59914,"v":8.2},{"s":"PMT up","t":59920,"v":3.3},{"s":"PMT up","t":59927,"v":13.2},{"s":"PMT up","t":59932,"v":7},{"s":"PMT up","t":59939,"v":3.3},{"s":"PMT up","t":59943,"v":18.2},{"s":"PMT up","t":59949,"v":8.2},{"s":"PMT up","t":59954,"v":13.2},{"s":"PMT up","t":59960,"v":4.5},{"s":"PMT up","t":59964,"v":10.7},{"s":"PMT up","t":59970,"v":3.3},{"s":"PMT up","t":59975,"v":8.2},{"s":"PMT up","t":59981,"v":1.8},{"s":"PMT up","t":59985,"v":9.5},{"s":"PMT up","t":59992,"v":3.3},{"s":"PMT up","t":59996,"v":8.2},{"s":"PMT up","t":60002,"v":2},{"s":"PMT up","t":60006,"v":5.7},{"s":"PMT up","t":60013,"v":-4.2},{"s":"PMT up","t":60017,"v":-7.9},{"s":"PMT up","t":60020,"v":3.3},{"s":"PMT up","t":60025,"v":12},{"s":"PMT up","t":60031,"v":8.2},{"s":"PMT up","t":60036,"v":10.7},{"s":"PMT up","t":60041,"v":8.2},{"s":"PMT up","t":60046,"v":9.5},{"s":"PMT up","t":60053,"v":7},{"s":"PMT up","t":60059,"v":8.2},{"s":"PMT up","t":60068,"v":9.5},{"s":"PMT up","t":60076,"v":13.2},{"s":"PMT up","t":60083,"v":8.2},{"s":"PMT up","t":60091,"v":7},{"s":"PMT up","t":60099,"v":9.5},{"s":"PMT up","t":60108,"v":5.7},{"s":"PMT up","t":60116,"v":7},{"s":"PMT up","t":60125,"v":4.5},{"s":"PMT up","t":60133,"v":7},{"s":"PMT up","t":60142,"v":5.7},{"s":"PMT up","t":60150,"v":3.3},{"s":"PMT up","t":60158,"v":4.5},{"s":"PMT up","t":60167,"v":2},{"s":"PMT up","t":60175,"v":5.7},{"s":"PMT up","t":60184,"v":3.3},{"s":"PMT up","t":60192,"v":4.5},{"s":"PMT up","t":60201,"v":2},{"s":"PMT up","t":60209,"v":3.3},{"s":"PMT up","t":60218,"v":0.8},{"s":"PMT up","t":60226,"v":2},{"s":"PMT up","t":60237,"v":0.8},{"s":"PMT up","t":60247,"v":2},{"s":"PMT up","t":60258,"v":-0.5},{"s":"PMT up","t":60268,"v":0.8},{"s":"PMT up","t":60279,"v":-1.7},{"s":"PMT up","t":60289,"v":-0.5},{"s":"PMT up","t":60300,"v":1.3},{"s":"PMT up","t":60311,"v":0.8},{"s":"PMT up","t":60321,"v":3.3},{"s":"PMT up","t":60332,"v":-0.5},{"s":"PMT up","t":60342,"v":0.8},{"s":"PMT up","t":60353,"v":-0.5},{"s":"PMT up","t":60363,"v":0.8},{"s":"PMT up","t":60374,"v":1.3},{"s":"PMT up","t":60384,"v":-1.7},{"s":"PMT up","t":60395,"v":-4.2},{"s":"PMT up","t":60406,"v":-1.7},{"s":"PMT up","t":60416,"v":-0.5},{"s":"PMT up","t":60427,"v":-1.7},{"s":"PMT up","t":60437,"v":-0.5},{"s":"PMT up","t":60448,"v":-1.2},{"s":"PMT up","t":60458,"v":-2.2},{"s":"PMT up","t":60469,"v":-1.7},{"s":"PMT up","t":60480,"v":-0.5},{"s":"PMT up","t":60490,"v":-1.2},{"s":"PMT up","t":60501,"v":-3},{"s":"PMT up","t":60511,"v":-1.7},{"s":"PMT up","t":60522,"v":-1.2},{"s":"PMT up","t":60532,"v":-1.7},{"s":"PMT up","t":60543,"v":-2.2},{"s":"PMT up","t":60553,"v":-1.2},{"s":"PMT up","t":60564,"v":-2.5},{"s":"PMT up","t":60575,"v":-1.7},{"s":"PMT up","t":60585,"v":-3},{"s":"PMT up","t":60596,"v":-4.2},{"s":"PMT up","t":60606,"v":-1.7},{"s":"PMT up","t":60617,"v":-3},{"s":"PMT up","t":60627,"v":-1.7},{"s":"PMT up","t":60638,"v":-2.5},{"s":"PMT up","t":60649,"v":-1.2},{"s":"PMT up","t":60659,"v":-2.2},{"s":"PMT up","t":60670,"v":-1.7},{"s":"PMT up","t":60680,"v":-3},{"s":"PMT up","t":60691,"v":-1.7},{"s":"PMT up","t":60701,"v":-2.5},{"s":"PMT up","t":60712,"v":-3},{"s":"PMT up","t":60722,"v":-1.2},{"s":"PMT up","t":60733,"v":-3},{"s":"PMT up","t":60744,"v":-1.7},{"s":"PMT up","t":60754,"v":-2.2},{"s":"PMT up","t":60765,"v":-1.2},{"s":"PMT up","t":60775,"v":-1.7},{"s":"PMT up","t":60786,"v":-1.2},{"s":"PMT up","t":60796,"v":-0.5},{"s":"PMT up","t":60810,"v":-3},{"s":"PMT up","t":60825,"v":-6},{"s":"PMT up","t":60840,"v":-6.5},{"s":"PMT up","t":60855,"v":-5},{"s":"PMT up","t":60870,"v":-3.5},{"s":"PMT up","t":60890,"v":-2},{"s":"PMT up","t":60910,"v":-3},{"s":"PMT up","t":60930,"v":-1.5},{"s":"PMT up","t":60950,"v":-2.5},{"s":"PMT up","t":60970,"v":-1},{"s":"PMT up","t":60985,"v":0.5},{"s":"PMT up","t":61000,"v":-1}]
},
"columns": 2,
"spacing": {"row": 84, "column": 126.6},
"bounds": "flush",
"resolve": {"scale": {"color": "independent", "x": "independent", "y": "independent"}, "legend": {"color": "independent"}, "axis": {"x": "independent", "y": "independent"}},
"concat": [
{"width": 473.4, "height": 321, "layer": [
 {"data": {"name": "a"}, "mark": {"type": "line", "strokeWidth": 1.2},
  "encoding": {
   "x": {"field": "t", "type": "quantitative", "scale": {"domain": [59500, 61000], "nice": false, "zero": false}, "axis": {"title": "Time (ns)", "values": [59500,59550,59600,59650,59700,59750,59800,59850,59900,59950,60000,60050,60100,60150,60200,60250,60300,60350,60400,60450,60500,60550,60600,60650,60700,60750,60800,60850,60900,60950,61000], "tickCount": 100, "format": "d", "labelExpr": "datum.value % 200 === 0 ? datum.label : ''", "tickSize": {"condition": {"test": "datum.value % 200 === 0", "value": -8.7}, "value": -4.3}, "labelPadding": 12.4, "titleX": 473.4, "titleY": 32, "titleAlign": "right", "titleBaseline": "middle", "labelFlush": false, "labelOverlap": false}},
   "y": {"field": "v", "type": "quantitative", "scale": {"domain": [-40, 200], "nice": false, "zero": false}, "axis": {"title": "Amplitude (mV)", "values": [-40,-30,-20,-10,0,10,20,30,40,50,60,70,80,90,100,110,120,130,140,150,160,170,180,190,200], "tickCount": 100, "labelExpr": "datum.value % 50 === 0 ? datum.label : ''", "tickSize": {"condition": {"test": "datum.value % 50 === 0", "value": -13}, "value": -6.5}, "labelPadding": 17, "titleX": -59, "titleY": 0, "titleAngle": -90, "titleAlign": "right", "titleBaseline": "middle", "labelOverlap": false}},
   "color": {"field": "s", "type": "nominal", "scale": {"domain": ["PMT up", "PMT down"], "range": ["#ff0000", "#0000ff"]}, "legend": {"title": "D17 3 μm/LiF", "orient": "none", "legendX": 291, "legendY": 62, "direction": "vertical"}}
  }},
 {"data": {"values": [{}]}, "mark": {"type": "rule", "color": "black", "strokeDash": [5, 3], "strokeWidth": 1.5}, "encoding": {"x": {"datum": 59809, "type": "quantitative"}}},
 {"data": {"values": [{}]}, "mark": {"type": "text", "align": "left", "baseline": "middle", "fontSize": 18, "color": "black"}, "encoding": {"x": {"datum": 59547, "type": "quantitative"}, "y": {"datum": 184, "type": "quantitative"}, "text": {"value": "a)"}}}
]},
{"width": 473.4, "height": 321, "layer": [
 {"data": {"name": "b"}, "mark": {"type": "line", "strokeWidth": 1.2},
  "encoding": {
   "x": {"field": "t", "type": "quantitative", "scale": {"domain": [59500, 61000], "nice": false, "zero": false}, "axis": {"title": "Time (ns)", "values": [59500,59550,59600,59650,59700,59750,59800,59850,59900,59950,60000,60050,60100,60150,60200,60250,60300,60350,60400,60450,60500,60550,60600,60650,60700,60750,60800,60850,60900,60950,61000], "tickCount": 100, "format": "d", "labelExpr": "datum.value % 200 === 0 ? datum.label : ''", "tickSize": {"condition": {"test": "datum.value % 200 === 0", "value": -8.7}, "value": -4.3}, "labelPadding": 12.4, "titleX": 473.4, "titleY": 32, "titleAlign": "right", "titleBaseline": "middle", "labelFlush": false, "labelOverlap": false}},
   "y": {"field": "v", "type": "quantitative", "scale": {"domain": [-40, 200], "nice": false, "zero": false}, "axis": {"title": "Amplitude (mV)", "values": [-40,-30,-20,-10,0,10,20,30,40,50,60,70,80,90,100,110,120,130,140,150,160,170,180,190,200], "tickCount": 100, "labelExpr": "datum.value % 50 === 0 ? datum.label : ''", "tickSize": {"condition": {"test": "datum.value % 50 === 0", "value": -13}, "value": -6.5}, "labelPadding": 17, "titleX": -59, "titleY": 0, "titleAngle": -90, "titleAlign": "right", "titleBaseline": "middle", "labelOverlap": false}},
   "color": {"field": "s", "type": "nominal", "scale": {"domain": ["PMT up", "PMT down"], "range": ["#ff0000", "#0000ff"]}, "legend": {"title": "D17 3 μm/Pb", "orient": "none", "legendX": 291, "legendY": 62, "direction": "vertical"}}
  }},
 {"data": {"values": [{}]}, "mark": {"type": "rule", "color": "black", "strokeDash": [5, 3], "strokeWidth": 1.5}, "encoding": {"x": {"datum": 59809, "type": "quantitative"}}},
 {"data": {"values": [{}]}, "mark": {"type": "text", "align": "left", "baseline": "middle", "fontSize": 18, "color": "black"}, "encoding": {"x": {"datum": 59547, "type": "quantitative"}, "y": {"datum": 184, "type": "quantitative"}, "text": {"value": "b)"}}}
]},
{"width": 473.4, "height": 321, "layer": [
 {"data": {"name": "c"}, "mark": {"type": "line", "strokeWidth": 1.2},
  "encoding": {
   "x": {"field": "t", "type": "quantitative", "scale": {"domain": [59500, 61000], "nice": false, "zero": false}, "axis": {"title": "Time (ns)", "values": [59500,59550,59600,59650,59700,59750,59800,59850,59900,59950,60000,60050,60100,60150,60200,60250,60300,60350,60400,60450,60500,60550,60600,60650,60700,60750,60800,60850,60900,60950,61000], "tickCount": 100, "format": "d", "labelExpr": "datum.value % 200 === 0 ? datum.label : ''", "tickSize": {"condition": {"test": "datum.value % 200 === 0", "value": -8.7}, "value": -4.3}, "labelPadding": 12.4, "titleX": 473.4, "titleY": 32, "titleAlign": "right", "titleBaseline": "middle", "labelFlush": false, "labelOverlap": false}},
   "y": {"field": "v", "type": "quantitative", "scale": {"domain": [-40, 200], "nice": false, "zero": false}, "axis": {"title": "Amplitude (mV)", "values": [-40,-30,-20,-10,0,10,20,30,40,50,60,70,80,90,100,110,120,130,140,150,160,170,180,190,200], "tickCount": 100, "labelExpr": "datum.value % 50 === 0 ? datum.label : ''", "tickSize": {"condition": {"test": "datum.value % 50 === 0", "value": -13}, "value": -6.5}, "labelPadding": 17, "titleX": -59, "titleY": 0, "titleAngle": -90, "titleAlign": "right", "titleBaseline": "middle", "labelOverlap": false}},
   "color": {"field": "s", "type": "nominal", "scale": {"domain": ["PMT up", "PMT down"], "range": ["#ff0000", "#0000ff"]}, "legend": {"title": "D19 3 μm/LiF", "orient": "none", "legendX": 291, "legendY": 62, "direction": "vertical"}}
  }},
 {"data": {"values": [{}]}, "mark": {"type": "rule", "color": "black", "strokeDash": [5, 3], "strokeWidth": 1.5}, "encoding": {"x": {"datum": 59809, "type": "quantitative"}}},
 {"data": {"values": [{}]}, "mark": {"type": "text", "align": "left", "baseline": "middle", "fontSize": 18, "color": "black"}, "encoding": {"x": {"datum": 59547, "type": "quantitative"}, "y": {"datum": 184, "type": "quantitative"}, "text": {"value": "c)"}}}
]},
{"width": 473.4, "height": 321, "layer": [
 {"data": {"name": "d"}, "mark": {"type": "line", "strokeWidth": 1.2},
  "encoding": {
   "x": {"field": "t", "type": "quantitative", "scale": {"domain": [59500, 61000], "nice": false, "zero": false}, "axis": {"title": "Time (ns)", "values": [59500,59550,59600,59650,59700,59750,59800,59850,59900,59950,60000,60050,60100,60150,60200,60250,60300,60350,60400,60450,60500,60550,60600,60650,60700,60750,60800,60850,60900,60950,61000], "tickCount": 100, "format": "d", "labelExpr": "datum.value % 200 === 0 ? datum.label : ''", "tickSize": {"condition": {"test": "datum.value % 200 === 0", "value": -8.7}, "value": -4.3}, "labelPadding": 12.4, "titleX": 473.4, "titleY": 32, "titleAlign": "right", "titleBaseline": "middle", "labelFlush": false, "labelOverlap": false}},
   "y": {"field": "v", "type": "quantitative", "scale": {"domain": [-40, 200], "nice": false, "zero": false}, "axis": {"title": "Amplitude (mV)", "values": [-40,-30,-20,-10,0,10,20,30,40,50,60,70,80,90,100,110,120,130,140,150,160,170,180,190,200], "tickCount": 100, "labelExpr": "datum.value % 50 === 0 ? datum.label : ''", "tickSize": {"condition": {"test": "datum.value % 50 === 0", "value": -13}, "value": -6.5}, "labelPadding": 17, "titleX": -59, "titleY": 0, "titleAngle": -90, "titleAlign": "right", "titleBaseline": "middle", "labelOverlap": false}},
   "color": {"field": "s", "type": "nominal", "scale": {"domain": ["PMT up", "PMT down"], "range": ["#ff0000", "#0000ff"]}, "legend": {"title": "D19 3 μm/Pb", "orient": "none", "legendX": 291, "legendY": 62, "direction": "vertical"}}
  }},
 {"data": {"values": [{}]}, "mark": {"type": "rule", "color": "black", "strokeDash": [5, 3], "strokeWidth": 1.5}, "encoding": {"x": {"datum": 59809, "type": "quantitative"}}},
 {"data": {"values": [{}]}, "mark": {"type": "text", "align": "left", "baseline": "middle", "fontSize": 18, "color": "black"}, "encoding": {"x": {"datum": 59547, "type": "quantitative"}, "y": {"datum": 184, "type": "quantitative"}, "text": {"value": "d)"}}}
]}
],
"config": {
 "font": "Liberation Sans",
 "view": {"stroke": "black", "strokeWidth": 1},
 "axis": {"domainColor": "black", "domainWidth": 1, "tickColor": "black", "tickWidth": 1, "labelColor": "black", "titleColor": "black", "labelFontSize": 18, "titleFontSize": 18, "titleFontWeight": "normal", "labelFont": "Liberation Sans", "titleFont": "Liberation Sans", "grid": false},
 "legend": {"titleFontSize": 18, "titleFontWeight": "normal", "titleColor": "black", "titleFont": "Liberation Sans", "labelFontSize": 18, "labelColor": "black", "labelFont": "Liberation Sans", "symbolType": "stroke", "symbolSize": 900, "symbolStrokeWidth": 1.2, "rowPadding": 16, "titlePadding": 14, "labelOffset": 7, "padding": 0},
 "text": {"font": "Liberation Sans"}
}
}
